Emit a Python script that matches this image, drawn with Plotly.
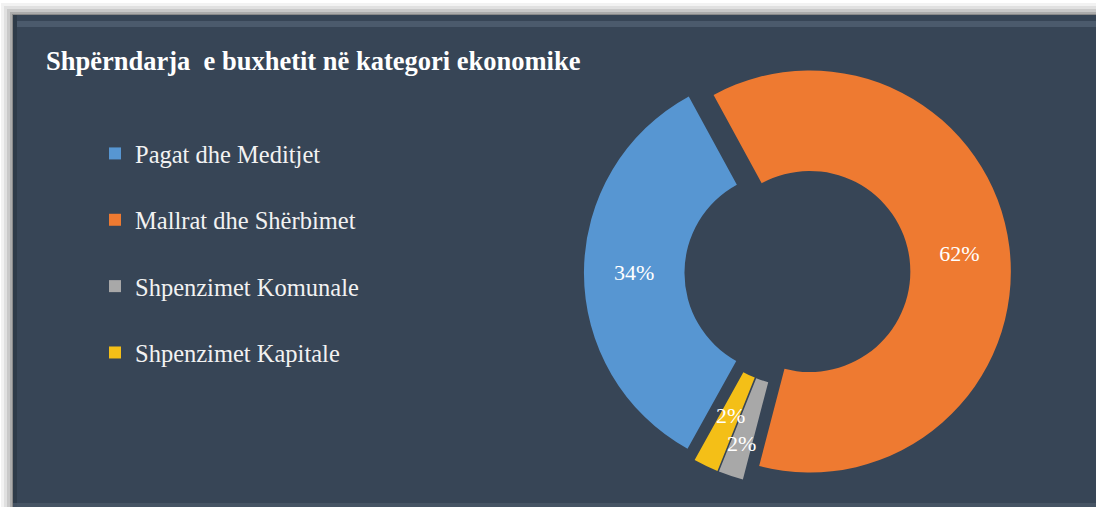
import math
import plotly.graph_objects as go

categories = ["Pagat dhe Meditjet", "Mallrat dhe Shërbimet", "Shpenzimet Komunale", "Shpenzimet Kapitale"]
values = [34, 62, 2, 2]
colors = ["#5796d2", "#ee7a31", "#a8a8a8", "#f4bf17"]
title_text = "Shpërndarja  e buxhetit në kategori ekonomike"

W, H = 1096, 507
BG = "#374556"
FONT = "Liberation Serif"

ROT = 209
HOLE = 0.5
PULL = 0.062
DOM_X = [0.5328, 0.9224]
DOM_Y = [0.0404, 0.8826]

total = sum(values)
small = [v / total < 0.05 for v in values]
texttemplate = ["" if s else "%{percent:.0%}" for s in small]

fig = go.Figure()

fig.add_trace(go.Pie(
    labels=categories, values=values, sort=False, direction="clockwise",
    rotation=ROT, hole=HOLE, pull=PULL,
    marker=dict(colors=colors, line=dict(width=0)),
    texttemplate=texttemplate, textposition="inside", insidetextorientation="horizontal",
    textfont=dict(family=FONT, size=22, color="white"),
    domain=dict(x=DOM_X, y=DOM_Y),
    showlegend=False, hoverinfo="label+percent",
))

# labels for thin slices, placed from the slice angles (same geometry as the pie)
dw = (DOM_X[1] - DOM_X[0]) * W
dh = (DOM_Y[1] - DOM_Y[0]) * H
R = min(dw, dh) / (2 + 2 * PULL)
cx = (DOM_X[0] + DOM_X[1]) / 2 * W
cy = H - (DOM_Y[0] + DOM_Y[1]) / 2 * H
annotations = []
acc = 0.0
radial = {2: 0.83, 3: 0.72}
for i, v in enumerate(values):
    mid = math.radians(ROT + 360 * (acc + v / 2) / total)
    acc += v
    if not small[i]:
        continue
    rr = radial.get(i, 0.77) * R + PULL * R
    px = cx + rr * math.sin(mid)
    py = cy - rr * math.cos(mid)
    annotations.append(dict(text=f"{round(100 * v / total)}%", xref="paper", yref="paper",
                            x=px / W, y=1 - py / H, xanchor="center", yanchor="middle",
                            showarrow=False, font=dict(family=FONT, size=22, color="white")))

# legend entries
for i, (name, c) in enumerate(zip(categories, colors)):
    fig.add_trace(go.Scatter(
        x=[None], y=[None], mode="markers", name=name, legendgroup=f"g{i}",
        marker=dict(symbol="square", size=12, color=c),
        showlegend=True,
    ))

def px_x(p):
    return p / W

def px_y(p):
    return 1 - p / H

shapes = []
for k, op in [(12, 0.05), (9, 0.07), (6, 0.1), (3, 0.14), (1, 0.2)]:
    shapes.append(dict(type="rect", xref="paper", yref="paper",
                       x0=px_x(13 - k), x1=1.02, y0=-0.02, y1=px_y(15 - k),
                       fillcolor="black", opacity=op, line=dict(width=0), layer="below"))
shapes.append(dict(type="rect", xref="paper", yref="paper",
                   x0=px_x(13), x1=1.02, y0=-0.02, y1=px_y(15),
                   fillcolor=BG, line=dict(width=0), layer="below"))
shapes.append(dict(type="rect", xref="paper", yref="paper",
                   x0=px_x(17), x1=1.02, y0=px_y(27), y1=px_y(21),
                   fillcolor="#5d6c80", opacity=0.55, line=dict(width=0), layer="below"))
shapes.append(dict(type="rect", xref="paper", yref="paper",
                   x0=px_x(13), x1=px_x(17), y0=-0.02, y1=px_y(15),
                   fillcolor="#2c3846", opacity=0.8, line=dict(width=0), layer="below"))
shapes.append(dict(type="rect", xref="paper", yref="paper",
                   x0=px_x(13), x1=1.02, y0=px_y(507), y1=px_y(503),
                   fillcolor="#4a5868", opacity=0.8, line=dict(width=0), layer="below"))

annotations.append(dict(text=f"<b>{title_text}</b>", xref="paper", yref="paper",
                        x=px_x(44), y=px_y(61), xanchor="left", yanchor="middle",
                        showarrow=False, font=dict(family=FONT, size=26.5, color="white")))

fig.update_layout(
    width=W, height=H,
    margin=dict(l=0, r=0, t=0, b=0),
    paper_bgcolor="white", plot_bgcolor="rgba(0,0,0,0)",
    xaxis=dict(visible=False, range=[0, 1]), yaxis=dict(visible=False, range=[0, 1]),
    shapes=shapes,
    uniformtext=dict(minsize=22, mode="show"),
    legend=dict(x=px_x(95), y=px_y(131), xanchor="left", yanchor="top",
                font=dict(family=FONT, size=24.5, color="#f2f2f2"),
                bgcolor="rgba(0,0,0,0)", tracegroupgap=31.5, itemclick=False),
    annotations=annotations,
)

fig.write_html("out.html", post_script="document.body.style.margin='0';",
               config={"displayModeBar": False})
